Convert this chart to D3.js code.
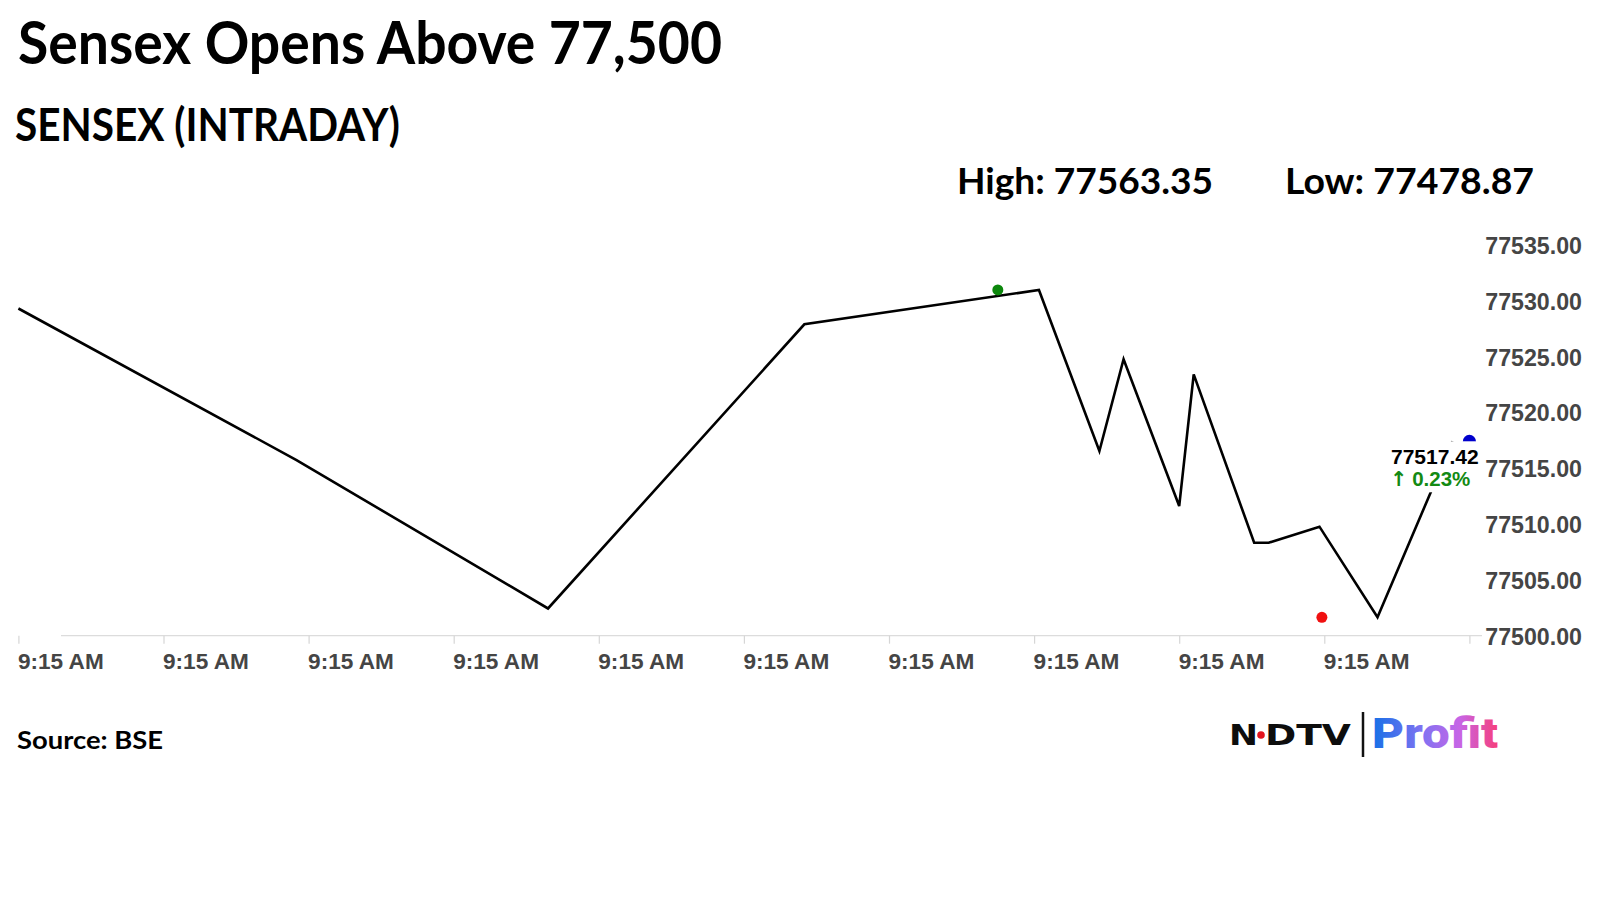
<!DOCTYPE html>
<html><head><meta charset="utf-8">
<script src="https://cdn.jsdelivr.net/npm/d3@7"></script>
<style>
html,body{margin:0;padding:0;background:#fff;}
svg{display:block;}
</style></head>
<body>
<svg id="chart" width="1600" height="900"></svg>
<script>
// ---------- data ----------
const titleText = "Sensex Opens Above 77,500";
const subtitleText = "SENSEX (INTRADAY)";
const highText = "High: 77563.35";
const lowText = "Low: 77478.87";
const sourceText = "Source: BSE";
// seconds after 9:15:00
const times  = [0, 11.5, 21.9, 32.5, 42.2, 44.7, 45.7, 48.0, 48.6, 51.1, 51.7, 53.8, 56.2, 59.3];
const prices = [77529.32, 77515.74, 77502.44, 77527.90, 77530.98, 77516.55, 77524.77, 77511.62, 77523.42, 77508.33, 77508.33, 77509.77, 77501.65, 77517.42];
const xTickTimes  = [0, 6, 12, 18, 24, 30, 36, 42, 48, 54, 60];
const xTickLabels = ["9:15 AM","9:15 AM","9:15 AM","9:15 AM","9:15 AM","9:15 AM","9:15 AM","9:15 AM","9:15 AM","9:15 AM",""];
const yTicks = [77500, 77505, 77510, 77515, 77520, 77525, 77530, 77535];
const markerNames  = ["high", "low", "last"];
const markerTimes  = [40.5, 53.9, 60];
const markerValues = [77530.98, 77501.65, 77517.42];
const lastPrice = 77517.42;
const lastChange = "0.23%";

// ---------- styles ----------
const markerColor = {high: "#0c870c", low: "#f01010", last: "#0000cc"};
const axisFont = "'Liberation Sans', Arial, sans-serif";
const headFont = "Lato, 'Open Sans', sans-serif";

const svg = d3.select("#chart");
svg.append("rect").attr("width", 1600).attr("height", 900).attr("fill", "#fff");

const x = d3.scaleLinear().domain([0, 60]).range([18.4, 1469.4]);
const y = d3.scaleLinear().domain([77500, 77535]).range([635.7, 245.1]);

// ---------- headings ----------
svg.append("text").text(titleText)
  .attr("x", 18).attr("y", 64)
  .attr("font-family", headFont).attr("font-weight", 700).attr("font-size", 59)
  .attr("textLength", 704).attr("lengthAdjust", "spacingAndGlyphs").attr("fill", "#000");
svg.append("text").text(subtitleText)
  .attr("x", 15).attr("y", 140.5)
  .attr("font-family", headFont).attr("font-weight", 700).attr("font-size", 45)
  .attr("textLength", 385).attr("lengthAdjust", "spacingAndGlyphs").attr("fill", "#000");
svg.append("text").text(highText)
  .attr("x", 957).attr("y", 193.5)
  .attr("font-family", headFont).attr("font-weight", 700).attr("font-size", 37)
  .attr("textLength", 256).attr("lengthAdjust", "spacingAndGlyphs").attr("fill", "#000");
svg.append("text").text(lowText)
  .attr("x", 1285).attr("y", 193.5)
  .attr("font-family", headFont).attr("font-weight", 700).attr("font-size", 37)
  .attr("textLength", 249).attr("lengthAdjust", "spacingAndGlyphs").attr("fill", "#000");
svg.append("text").text(sourceText)
  .attr("x", 17).attr("y", 749)
  .attr("font-family", headFont).attr("font-weight", 700).attr("font-size", 25.5)
  .attr("textLength", 146).attr("lengthAdjust", "spacingAndGlyphs").attr("fill", "#000");

// ---------- gridline ----------
svg.append("line")
  .attr("x1", 61).attr("x2", 1482)
  .attr("y1", y(77500)).attr("y2", y(77500))
  .attr("stroke", "#dcdcdc").attr("stroke-width", 1.2);

// ---------- x axis ----------
const xAxis = svg.append("g")
  .attr("transform", `translate(0,${y(77500)})`)
  .call(d3.axisBottom(x).tickValues(xTickTimes).tickFormat((d, i) => xTickLabels[i]).tickSize(8));
xAxis.select(".domain").remove();
xAxis.selectAll(".tick line").attr("stroke", "#d6d6d6").attr("stroke-width", 1.2);
xAxis.selectAll(".tick text")
  .attr("text-anchor", "start").attr("x", -1).attr("y", 33.3).attr("dy", null)
  .attr("font-family", axisFont).attr("font-weight", 700).attr("font-size", 22.6)
  .attr("fill", "#454545");

// ---------- y axis ----------
const yAxis = svg.append("g")
  .attr("transform", "translate(1582,0)")
  .call(d3.axisRight(y).tickValues(yTicks).tickFormat(d3.format(".2f")).tickSize(0));
yAxis.select(".domain").remove();
yAxis.selectAll(".tick text")
  .attr("text-anchor", "end").attr("x", 0).attr("dy", "0.36em")
  .attr("font-family", axisFont).attr("font-weight", 700).attr("font-size", 23.2)
  .attr("fill", "#454545");

// ---------- line ----------
const pts = times.map((t, i) => ({t, v: prices[i]}));
svg.append("path").datum(pts)
  .attr("d", d3.line().x(d => x(d.t)).y(d => y(d.v)))
  .attr("fill", "none").attr("stroke", "#000").attr("stroke-width", 2.6)
  .attr("stroke-linejoin", "miter");

// ---------- markers ----------
svg.selectAll("circle.mk").data(markerNames).join("circle")
  .attr("class", "mk")
  .attr("cx", (d, i) => x(markerTimes[i]))
  .attr("cy", (d, i) => y(markerValues[i]))
  .attr("r", (d) => d === "last" ? 6.5 : 5.5)
  .attr("fill", d => markerColor[d]);

// ---------- last price label ----------
const ly = y(lastPrice);
svg.append("rect").attr("x", 1386).attr("y", ly).attr("width", 95).attr("height", 51).attr("fill", "#fff");
svg.append("text").text(d3.format(".2f")(lastPrice))
  .attr("x", 1391).attr("y", ly + 23)
  .attr("font-family", axisFont).attr("font-weight", 700).attr("font-size", 21).attr("fill", "#000");
const chg = svg.append("text")
  .attr("x", 1390).attr("y", ly + 44.5)
  .attr("font-family", axisFont).attr("font-weight", 700).attr("font-size", 20.5).attr("fill", "#138a13");
chg.append("tspan").text("\u2191").attr("font-family", "'DejaVu Sans', sans-serif").attr("font-weight", 700);
chg.append("tspan").text(lastChange).attr("dx", 5);

// ---------- logo ----------
const defs = svg.append("defs");
const grad = defs.append("linearGradient").attr("id", "pg")
  .attr("gradientUnits", "userSpaceOnUse").attr("x1", 1372).attr("x2", 1497).attr("y1", 0).attr("y2", 0);
grad.append("stop").attr("offset", "0%").attr("stop-color", "#1570e6");
grad.append("stop").attr("offset", "40%").attr("stop-color", "#7f72f2");
grad.append("stop").attr("offset", "70%").attr("stop-color", "#c765e6");
grad.append("stop").attr("offset", "100%").attr("stop-color", "#f5407e");

svg.append("text").text("N")
  .attr("x", 1229).attr("y", 745)
  .attr("font-family", "'DejaVu Sans', sans-serif").attr("font-weight", 700).attr("font-size", 29)
  .attr("textLength", 29).attr("lengthAdjust", "spacingAndGlyphs").attr("fill", "#0d0d0d");
svg.append("circle").attr("cx", 1261).attr("cy", 735).attr("r", 3.8).attr("fill", "#e3141e");
svg.append("text").text("DTV")
  .attr("x", 1265).attr("y", 745)
  .attr("font-family", "'DejaVu Sans', sans-serif").attr("font-weight", 700).attr("font-size", 29)
  .attr("textLength", 86).attr("lengthAdjust", "spacingAndGlyphs").attr("fill", "#0d0d0d");
svg.append("line").attr("x1", 1363).attr("x2", 1363).attr("y1", 712).attr("y2", 757)
  .attr("stroke", "#111").attr("stroke-width", 2.5);
svg.append("text").text("Profit")
  .attr("x", 1372).attr("y", 748)
  .attr("font-family", "Roboto, Inter, sans-serif").attr("font-weight", 900).attr("font-size", 42)
  .attr("textLength", 126).attr("lengthAdjust", "spacingAndGlyphs").attr("fill", "url(#pg)");
</script>
</body></html>
